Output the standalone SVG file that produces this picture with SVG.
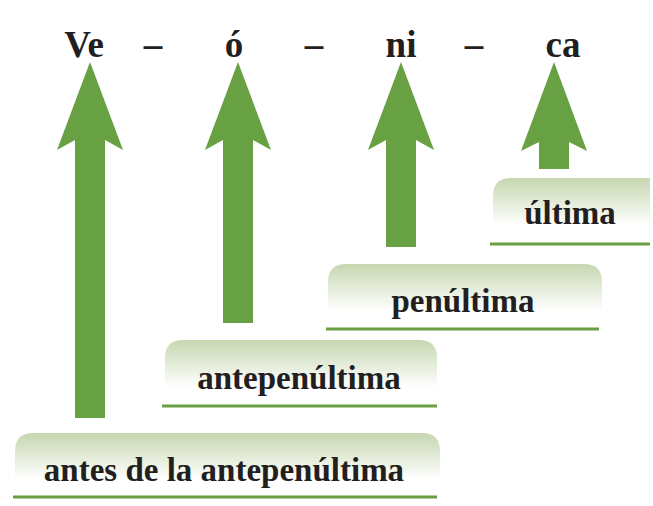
<svg xmlns="http://www.w3.org/2000/svg" width="653" height="506" viewBox="0 0 653 506">
<style>
.t{font-family:"Liberation Serif","Times New Roman",serif;font-weight:bold;fill:#231f20;text-anchor:middle}
.syl{font-size:37px}
.lbl{font-size:33px}
.box{fill:url(#g)}
.ln{stroke:#69a043;stroke-width:3}
.arr{fill:#68a044}
</style>
<defs>
<linearGradient id="g" x1="0" y1="0" x2="0" y2="1">
<stop offset="0" stop-color="#c6d7b0"/>
<stop offset="0.75" stop-color="#ffffff"/>
<stop offset="1" stop-color="#ffffff"/>
</linearGradient>
</defs>
<rect width="653" height="506" fill="#fff"/>
<g id="syllables">
<text class="t syl" x="84" y="57">Ve</text>
<text class="t syl" x="153" y="57">–</text>
<text class="t syl" x="234" y="57">ó</text>
<text class="t syl" x="314" y="57">–</text>
<text class="t syl" x="401" y="57">ni</text>
<text class="t syl" x="474" y="57">–</text>
<text class="t syl" x="563" y="57">ca</text>
</g>
<g id="connectors">
<path class="arr" d="M90,62 L123,150 L105,140 L105,418 L75,418 L75,140 L57,150 Z"/>
<path class="arr" d="M238,62 L271,150 L253,140 L253,323 L223,323 L223,140 L205,150 Z"/>
<path class="arr" d="M401,62 L434,150 L416,140 L416,247 L386,247 L386,140 L368,150 Z"/>
<path class="arr" d="M554,62 L587,151 L569,142 L569,169 L539,169 L539,142 L521,151 Z"/>
</g>
<g id="antes">
<path class="box" d="M15,495 L15,451 Q15,433 33,433 L422,433 Q440,433 440,451 L440,495 Z"/>
<line class="ln" x1="13" y1="497" x2="437" y2="497"/>
<text class="t lbl" x="224" y="481">antes de la antepenúltima</text>
</g>
<g id="antepenultima">
<path class="box" d="M165,403 L165,358 Q165,340 183,340 L419,340 Q437,340 437,358 L437,403 Z"/>
<line class="ln" x1="162" y1="406" x2="437" y2="406"/>
<text class="t lbl" x="299" y="389">antepenúltima</text>
</g>
<g id="penultima">
<path class="box" d="M328,326 L328,282 Q328,264 346,264 L584,264 Q602,264 602,282 L602,326 Z"/>
<line class="ln" x1="326" y1="329" x2="599" y2="329"/>
<text class="t lbl" x="463" y="312">penúltima</text>
</g>
<g id="ultima">
<path class="box" d="M493,241 L493,196 Q493,178 511,178 L650,178 L650,241 Z"/>
<line class="ln" x1="490" y1="244" x2="650" y2="244"/>
<text class="t lbl" x="570" y="224">última</text>
</g>
</svg>
